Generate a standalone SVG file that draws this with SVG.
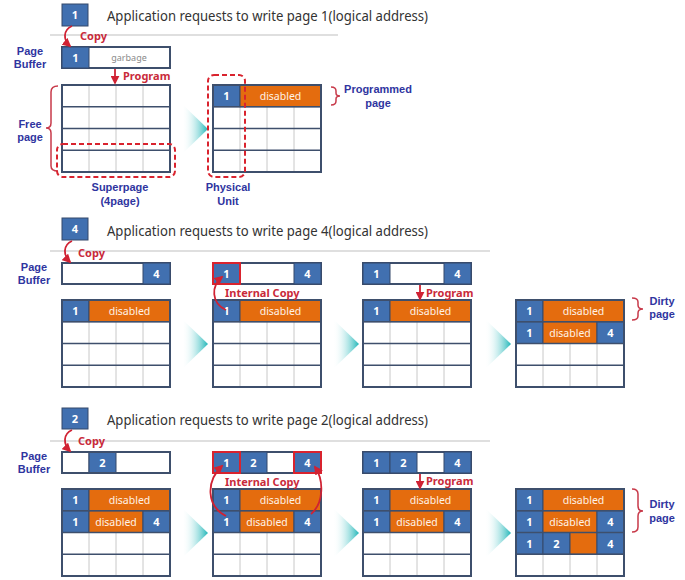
<svg xmlns="http://www.w3.org/2000/svg" xmlns:xlink="http://www.w3.org/1999/xlink" width="685" height="580" viewBox="0 0 685 580">
  <style>
    .title { font-family: "Noto Sans", "Liberation Sans", sans-serif; font-size: 14px; fill: #333; }
    .lbl { font-family: "Liberation Sans", "Noto Sans", sans-serif; font-size: 11px; font-weight: bold; fill: #2f35a0; text-anchor: middle; }
    .red { font-family: "Noto Sans", "Liberation Sans", sans-serif; font-size: 11px; font-weight: bold; fill: #c92a3a; }
    .num { font-family: "Noto Sans", "Liberation Sans", sans-serif; font-size: 11px; font-weight: bold; fill: #fff; text-anchor: middle; }
    .dis { font-family: "Noto Sans", "Liberation Sans", sans-serif; font-size: 10.5px; fill: #fff3e6; text-anchor: middle; }
    .gb { font-family: "Noto Sans", "Liberation Sans", sans-serif; font-size: 9px; fill: #8a8a8a; text-anchor: middle; }
    .blue { fill: #4170b0; stroke: #34496b; stroke-width: 1; }
    .org { fill: #e46c0e; stroke: #34496b; stroke-width: 1; }
    .white { fill: #fff; stroke: #3e4f6c; stroke-width: 1; }
    .buf { fill: #fff; stroke: #3e4f6c; stroke-width: 2; }
    .bufline { fill: none; stroke: #3e4f6c; stroke-width: 2; }
    .hl { fill: none; stroke: #d9232e; stroke-width: 2; }
    .coll { stroke: #c8c8c8; stroke-width: 1; }
    .rowl { stroke: #3e4f6c; stroke-width: 1.5; }
    .frame { fill: none; stroke: #3e4f6c; stroke-width: 2; }
    .sep { stroke: #d4d4d4; stroke-width: 1.5; }
    .arr { fill: none; stroke: #d02233; stroke-width: 1.8; marker-end: url(#ah); }
    .brace { fill: none; stroke: #c83a4a; stroke-width: 1.5; }
    .dash { fill: none; stroke: #d9232e; stroke-width: 2; stroke-dasharray: 5 3; }
  </style>
  <defs>
    <marker id="ah" viewBox="0 0 10 10" refX="8" refY="5" markerWidth="5" markerHeight="5" orient="auto">
      <path d="M0,0 L10,5 L0,10 z" fill="#d02233"/>
    </marker>
    <linearGradient id="fade" x1="0" y1="0" x2="1" y2="0">
      <stop offset="0" stop-color="#ffffff" stop-opacity="0"/>
      <stop offset="1" stop-color="#1fb6b8"/>
    </linearGradient>
    <!-- empty 4x4 page block: background and column dividers -->
    <g id="gridBase">
      <rect x="0" y="0" width="108" height="87" fill="#fff"/>
      <line class="coll" x1="27" y1="0" x2="27" y2="87"/>
      <line class="coll" x1="54" y1="0" x2="54" y2="87"/>
      <line class="coll" x1="81" y1="0" x2="81" y2="87"/>
    </g>
    <!-- row separators and outer frame, drawn over the cells -->
    <g id="gridTop">
      <line class="rowl" x1="0" y1="21.75" x2="108" y2="21.75"/>
      <line class="rowl" x1="0" y1="43.5" x2="108" y2="43.5"/>
      <line class="rowl" x1="0" y1="65.25" x2="108" y2="65.25"/>
      <rect class="frame" x="0" y="0" width="108" height="87"/>
    </g>
    <polygon id="chev" points="0,0 26,25 0,50" fill="url(#fade)"/>
  </defs>

  <!-- ================= Step 1: write page 1 ================= -->
  <g id="step1-header">
    <rect class="blue" x="62" y="4" width="26" height="22"/>
    <text class="num" x="75" y="19">1</text>
    <text class="title" x="107" y="21" textLength="321" lengthAdjust="spacingAndGlyphs">Application requests to write page 1(logical address)</text>
    <line class="sep" x1="50" y1="35" x2="338" y2="35"/>
  </g>

  <g id="step1-buffer">
    <text class="lbl" x="30" y="55">Page</text>
    <text class="lbl" x="30" y="68">Buffer</text>
    <rect class="buf" x="62" y="47" width="108" height="21"/>
    <rect class="blue" x="62" y="47" width="27" height="21"/>
    <text class="num" x="75.5" y="62">1</text>
    <text class="gb" x="129" y="61">garbage</text>
  </g>

  <g id="step1-free">
    <use xlink:href="#gridBase" x="62" y="85"/>
    <use xlink:href="#gridTop" x="62" y="85"/>
    <path class="brace" d="M58,86 Q51,86 51,92 L51,123 Q51,128 46,128 Q51,128 51,133 L51,166 Q51,171 58,171"/>
    <text class="lbl" x="30" y="128">Free</text>
    <text class="lbl" x="30" y="141">page</text>
    <rect class="dash" x="57" y="144" width="118" height="33" rx="6"/>
    <text class="lbl" x="120" y="191">Superpage</text>
    <text class="lbl" x="120" y="205">(4page)</text>
  </g>

  <use xlink:href="#chev" x="182" y="104"/>

  <g id="step1-unit">
    <use xlink:href="#gridBase" x="213" y="85"/>
    <rect class="blue" x="213" y="85" width="27" height="21.75"/>
    <rect class="org" x="240" y="85" width="81" height="21.75"/>
    <text class="num" x="226.5" y="100">1</text>
    <text class="dis" x="280.5" y="100">disabled</text>
    <use xlink:href="#gridTop" x="213" y="85"/>
    <rect class="dash" x="208" y="75" width="37" height="102" rx="6"/>
    <text class="lbl" x="228" y="191">Physical</text>
    <text class="lbl" x="228" y="205">Unit</text>
    <path class="brace" d="M331,87 Q336,87 336,91 L336,93 Q336,96 340,96 Q336,96 336,99 L336,101 Q336,105 331,105"/>
    <text class="lbl" x="378" y="93">Programmed</text>
    <text class="lbl" x="378" y="107">page</text>
  </g>

  <!-- ================= Step 2: write page 4 ================= -->
  <g id="step2-header">
    <rect class="blue" x="62" y="218" width="26" height="22"/>
    <text class="num" x="75" y="233">4</text>
    <text class="title" x="107" y="236" textLength="321" lengthAdjust="spacingAndGlyphs">Application requests to write page 4(logical address)</text>
    <line class="sep" x1="50" y1="251" x2="490" y2="251"/>
  </g>

  <g id="step2-state1">
    <text class="lbl" x="34" y="271">Page</text>
    <text class="lbl" x="34" y="284">Buffer</text>
    <rect class="buf" x="62" y="263" width="108" height="21"/>
    <rect class="blue" x="143" y="263" width="27" height="21"/>
    <text class="num" x="156.5" y="278">4</text>
    <use xlink:href="#gridBase" x="62" y="300"/>
    <rect class="blue" x="62" y="300" width="27" height="21.75"/>
    <rect class="org" x="89" y="300" width="81" height="21.75"/>
    <text class="num" x="75.5" y="315">1</text>
    <text class="dis" x="129.5" y="315">disabled</text>
    <use xlink:href="#gridTop" x="62" y="300"/>
  </g>

  <use xlink:href="#chev" x="182" y="319"/>

  <g id="step2-state2">
    <rect class="buf" x="213" y="263" width="108" height="21"/>
    <rect class="blue" x="213" y="263" width="27" height="21"/>
    <rect class="blue" x="294" y="263" width="27" height="21"/>
    <rect class="hl" x="213" y="263" width="27" height="21"/>
    <text class="num" x="226.5" y="278">1</text>
    <text class="num" x="307.5" y="278">4</text>
    <use xlink:href="#gridBase" x="213" y="300"/>
    <rect class="blue" x="213" y="300" width="27" height="21.75"/>
    <rect class="org" x="240" y="300" width="81" height="21.75"/>
    <text class="num" x="226.5" y="315">1</text>
    <text class="dis" x="280.5" y="315">disabled</text>
    <use xlink:href="#gridTop" x="213" y="300"/>
  </g>

  <use xlink:href="#chev" x="333" y="319"/>

  <g id="step2-state3">
    <rect class="buf" x="363" y="263" width="108" height="21"/>
    <rect class="blue" x="363" y="263" width="27" height="21"/>
    <rect class="blue" x="444" y="263" width="27" height="21"/>
    <text class="num" x="376.5" y="278">1</text>
    <text class="num" x="457.5" y="278">4</text>
    <use xlink:href="#gridBase" x="363" y="300"/>
    <rect class="blue" x="363" y="300" width="27" height="21.75"/>
    <rect class="org" x="390" y="300" width="81" height="21.75"/>
    <text class="num" x="376.5" y="315">1</text>
    <text class="dis" x="430.5" y="315">disabled</text>
    <use xlink:href="#gridTop" x="363" y="300"/>
  </g>

  <use xlink:href="#chev" x="485" y="319"/>

  <g id="step2-state4">
    <use xlink:href="#gridBase" x="516" y="300"/>
    <rect class="blue" x="516" y="300" width="27" height="21.75"/>
    <rect class="org" x="543" y="300" width="81" height="21.75"/>
    <text class="num" x="529.5" y="315">1</text>
    <text class="dis" x="583.5" y="315">disabled</text>
    <rect class="blue" x="516" y="321.75" width="27" height="21.75"/>
    <rect class="org" x="543" y="321.75" width="54" height="21.75"/>
    <rect class="blue" x="597" y="321.75" width="27" height="21.75"/>
    <text class="num" x="529.5" y="337">1</text>
    <text class="dis" x="570" y="337">disabled</text>
    <text class="num" x="610.5" y="337">4</text>
    <use xlink:href="#gridTop" x="516" y="300"/>
    <path class="brace" d="M632,298 Q638,298 638,302 L638,305 Q638,309 643,309 Q638,309 638,313 L638,316 Q638,320 632,320"/>
    <text class="lbl" x="662" y="305">Dirty</text>
    <text class="lbl" x="662" y="318">page</text>
  </g>

  <!-- ================= Step 3: write page 2 ================= -->
  <g id="step3-header">
    <rect class="blue" x="62" y="408" width="26" height="21"/>
    <text class="num" x="75" y="423">2</text>
    <text class="title" x="107" y="425" textLength="321" lengthAdjust="spacingAndGlyphs">Application requests to write page 2(logical address)</text>
    <line class="sep" x1="50" y1="441" x2="490" y2="441"/>
  </g>

  <g id="step3-state1">
    <text class="lbl" x="34" y="460">Page</text>
    <text class="lbl" x="34" y="473">Buffer</text>
    <rect class="buf" x="62" y="452" width="108" height="21"/>
    <rect class="white" x="62" y="452" width="27" height="21"/>
    <rect class="blue" x="89" y="452" width="27" height="21"/>
    <text class="num" x="102.5" y="467">2</text>
    <rect class="bufline" x="62" y="452" width="108" height="21"/>
    <use xlink:href="#gridBase" x="62" y="489"/>
    <rect class="blue" x="62" y="489" width="27" height="21.75"/>
    <rect class="org" x="89" y="489" width="81" height="21.75"/>
    <text class="num" x="75.5" y="504">1</text>
    <text class="dis" x="129.5" y="504">disabled</text>
    <rect class="blue" x="62" y="510.75" width="27" height="21.75"/>
    <rect class="org" x="89" y="510.75" width="54" height="21.75"/>
    <rect class="blue" x="143" y="510.75" width="27" height="21.75"/>
    <text class="num" x="75.5" y="526">1</text>
    <text class="dis" x="116" y="526">disabled</text>
    <text class="num" x="156.5" y="526">4</text>
    <use xlink:href="#gridTop" x="62" y="489"/>
  </g>

  <use xlink:href="#chev" x="182" y="508"/>

  <g id="step3-state2">
    <rect class="buf" x="213" y="452" width="108" height="21"/>
    <rect class="blue" x="213" y="452" width="27" height="21"/>
    <rect class="blue" x="240" y="452" width="27" height="21"/>
    <rect class="blue" x="294" y="452" width="27" height="21"/>
    <rect class="hl" x="213" y="452" width="27" height="21"/>
    <rect class="hl" x="294" y="452" width="27" height="21"/>
    <text class="num" x="226.5" y="467">1</text>
    <text class="num" x="253.5" y="467">2</text>
    <text class="num" x="307.5" y="467">4</text>
    <use xlink:href="#gridBase" x="213" y="489"/>
    <rect class="blue" x="213" y="489" width="27" height="21.75"/>
    <rect class="org" x="240" y="489" width="81" height="21.75"/>
    <text class="num" x="226.5" y="504">1</text>
    <text class="dis" x="280.5" y="504">disabled</text>
    <rect class="blue" x="213" y="510.75" width="27" height="21.75"/>
    <rect class="org" x="240" y="510.75" width="54" height="21.75"/>
    <rect class="blue" x="294" y="510.75" width="27" height="21.75"/>
    <text class="num" x="226.5" y="526">1</text>
    <text class="dis" x="267" y="526">disabled</text>
    <text class="num" x="307.5" y="526">4</text>
    <use xlink:href="#gridTop" x="213" y="489"/>
  </g>

  <use xlink:href="#chev" x="333" y="508"/>

  <g id="step3-state3">
    <rect class="buf" x="363" y="452" width="108" height="21"/>
    <rect class="blue" x="363" y="452" width="27" height="21"/>
    <rect class="blue" x="390" y="452" width="27" height="21"/>
    <rect class="blue" x="444" y="452" width="27" height="21"/>
    <text class="num" x="376.5" y="467">1</text>
    <text class="num" x="403.5" y="467">2</text>
    <text class="num" x="457.5" y="467">4</text>
    <use xlink:href="#gridBase" x="363" y="489"/>
    <rect class="blue" x="363" y="489" width="27" height="21.75"/>
    <rect class="org" x="390" y="489" width="81" height="21.75"/>
    <text class="num" x="376.5" y="504">1</text>
    <text class="dis" x="430.5" y="504">disabled</text>
    <rect class="blue" x="363" y="510.75" width="27" height="21.75"/>
    <rect class="org" x="390" y="510.75" width="54" height="21.75"/>
    <rect class="blue" x="444" y="510.75" width="27" height="21.75"/>
    <text class="num" x="376.5" y="526">1</text>
    <text class="dis" x="417" y="526">disabled</text>
    <text class="num" x="457.5" y="526">4</text>
    <use xlink:href="#gridTop" x="363" y="489"/>
  </g>

  <use xlink:href="#chev" x="485" y="508"/>

  <g id="step3-state4">
    <use xlink:href="#gridBase" x="516" y="489"/>
    <rect class="blue" x="516" y="489" width="27" height="21.75"/>
    <rect class="org" x="543" y="489" width="81" height="21.75"/>
    <text class="num" x="529.5" y="504">1</text>
    <text class="dis" x="583.5" y="504">disabled</text>
    <rect class="blue" x="516" y="510.75" width="27" height="21.75"/>
    <rect class="org" x="543" y="510.75" width="54" height="21.75"/>
    <rect class="blue" x="597" y="510.75" width="27" height="21.75"/>
    <text class="num" x="529.5" y="526">1</text>
    <text class="dis" x="570" y="526">disabled</text>
    <text class="num" x="610.5" y="526">4</text>
    <rect class="blue" x="516" y="532.5" width="27" height="21.75"/>
    <rect class="blue" x="543" y="532.5" width="27" height="21.75"/>
    <rect class="org" x="570" y="532.5" width="27" height="21.75"/>
    <rect class="blue" x="597" y="532.5" width="27" height="21.75"/>
    <text class="num" x="529.5" y="548">1</text>
    <text class="num" x="556.5" y="548">2</text>
    <text class="num" x="610.5" y="548">4</text>
    <use xlink:href="#gridTop" x="516" y="489"/>
    <path class="brace" d="M632,489 Q638,489 638,494 L638,506 Q638,511 643,511 Q638,511 638,516 L638,527 Q638,532 632,532"/>
    <text class="lbl" x="662" y="508">Dirty</text>
    <text class="lbl" x="662" y="522">page</text>
  </g>

  <!-- copy / program / internal-copy arrows and their labels -->
  <g id="connectors">
    <path class="arr" d="M72,26 C63,30 63,40 70,46"/>
    <text class="red" x="80" y="40">Copy</text>
    <path class="arr" d="M115,69 L115,83"/>
    <text class="red" x="123" y="80">Program</text>

    <path class="arr" d="M72,241 C63,245 63,255 70,262"/>
    <text class="red" x="78" y="257">Copy</text>
    <path class="arr" d="M226,310 C211,303 211,286 222,277"/>
    <text class="red" x="225" y="297">Internal Copy</text>
    <path class="arr" d="M420,285 L420,299"/>
    <text class="red" x="426" y="297">Program</text>

    <path class="arr" d="M72,430 C63,434 63,444 70,451"/>
    <text class="red" x="78" y="445">Copy</text>
    <path class="arr" d="M226,516 C206,506 206,481 222,466"/>
    <path class="arr" d="M311,514 C324,503 324,480 315,467"/>
    <text class="red" x="225" y="486">Internal Copy</text>
    <path class="arr" d="M420,474 L420,488"/>
    <text class="red" x="426" y="485">Program</text>
  </g>
</svg>
